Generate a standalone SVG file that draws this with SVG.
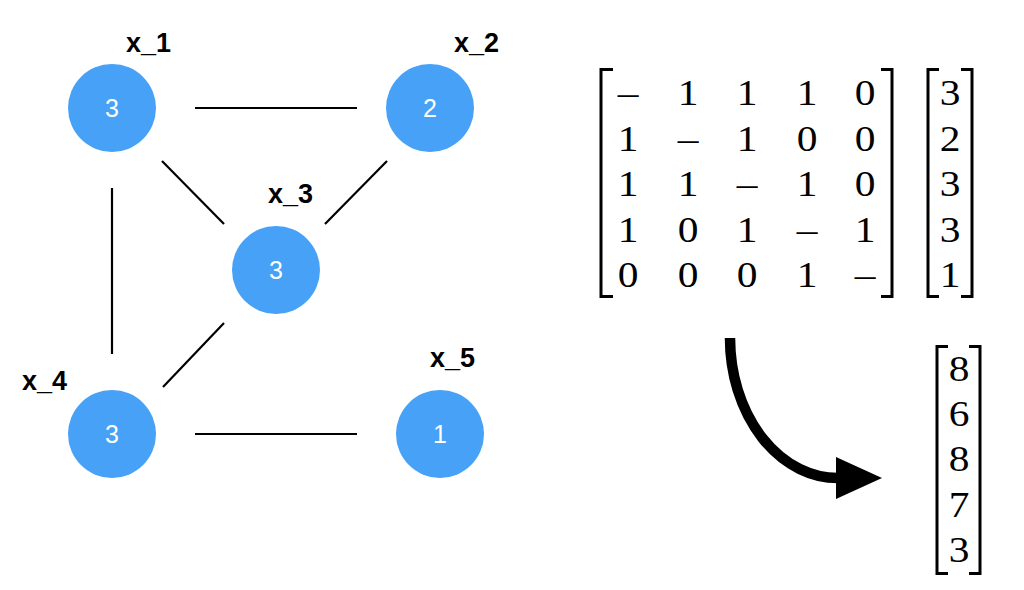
<svg xmlns="http://www.w3.org/2000/svg" width="1024" height="590" viewBox="0 0 1024 590">
<style>
.node circle{fill:#47A1F6;}
.num{font-family:"Liberation Sans",Arial,sans-serif;font-size:25px;fill:#fff;text-anchor:middle;}
.lbl{font-family:"Liberation Sans",Arial,sans-serif;font-size:27px;font-weight:bold;fill:#000;}
.edge{stroke:#000;stroke-width:2.2;fill:none;}
.m{font-family:"Liberation Serif","Times New Roman",serif;font-size:36px;fill:#000;text-anchor:middle;}
.br{stroke:#000;stroke-width:3;fill:none;}
</style>
<rect width="1024" height="590" fill="#fff"/>
<g id="connectors">
<line class="edge" x1="195" y1="108" x2="357" y2="108"/>
<line class="edge" x1="162" y1="161" x2="224" y2="224"/>
<line class="edge" x1="387" y1="161" x2="325" y2="224"/>
<line class="edge" x1="112" y1="188" x2="112" y2="354"/>
<line class="edge" x1="224" y1="323" x2="163" y2="387"/>
<line class="edge" x1="195" y1="434" x2="357" y2="434"/>
</g>
<g id="x1" class="node"><circle cx="112" cy="108" r="44"/><text class="num" x="112" y="117">3</text><text class="lbl" x="126" y="52">x_1</text></g>
<g id="x2" class="node"><circle cx="430" cy="108" r="44"/><text class="num" x="430" y="117">2</text><text class="lbl" x="454" y="52">x_2</text></g>
<g id="x3" class="node"><circle cx="276" cy="270" r="44"/><text class="num" x="276" y="279">3</text><text class="lbl" x="268" y="203">x_3</text></g>
<g id="x4" class="node"><circle cx="112" cy="434" r="44"/><text class="num" x="112" y="443">3</text><text class="lbl" x="22" y="390">x_4</text></g>
<g id="x5" class="node"><circle cx="440" cy="434" r="44"/><text class="num" x="440" y="443">1</text><text class="lbl" x="430" y="367">x_5</text></g>
<g id="matrix">
<path class="br" d="M613,69.5 H601 V296.5 H613"/>
<path class="br" d="M881,69.5 H892 V296.5 H881"/>
<g class="m">
<text transform="translate(628,105) scale(1.15,1)">–</text>
<text transform="translate(688,105) scale(1.15,1)">1</text>
<text transform="translate(747,105) scale(1.15,1)">1</text>
<text transform="translate(807,105) scale(1.15,1)">1</text>
<text transform="translate(865,105) scale(1.15,1)">0</text>
<text transform="translate(628,150.5) scale(1.15,1)">1</text>
<text transform="translate(688,150.5) scale(1.15,1)">–</text>
<text transform="translate(747,150.5) scale(1.15,1)">1</text>
<text transform="translate(807,150.5) scale(1.15,1)">0</text>
<text transform="translate(865,150.5) scale(1.15,1)">0</text>
<text transform="translate(628,196) scale(1.15,1)">1</text>
<text transform="translate(688,196) scale(1.15,1)">1</text>
<text transform="translate(747,196) scale(1.15,1)">–</text>
<text transform="translate(807,196) scale(1.15,1)">1</text>
<text transform="translate(865,196) scale(1.15,1)">0</text>
<text transform="translate(628,241.5) scale(1.15,1)">1</text>
<text transform="translate(688,241.5) scale(1.15,1)">0</text>
<text transform="translate(747,241.5) scale(1.15,1)">1</text>
<text transform="translate(807,241.5) scale(1.15,1)">–</text>
<text transform="translate(865,241.5) scale(1.15,1)">1</text>
<text transform="translate(628,287) scale(1.15,1)">0</text>
<text transform="translate(688,287) scale(1.15,1)">0</text>
<text transform="translate(747,287) scale(1.15,1)">0</text>
<text transform="translate(807,287) scale(1.15,1)">1</text>
<text transform="translate(865,287) scale(1.15,1)">–</text>
</g>
</g>
<g id="vector">
<path class="br" d="M939,69.5 H928 V296.5 H939"/>
<path class="br" d="M961,69.5 H972 V296.5 H961"/>
<g class="m">
<text transform="translate(950,105) scale(1.15,1)">3</text>
<text transform="translate(950,150.5) scale(1.15,1)">2</text>
<text transform="translate(950,196) scale(1.15,1)">3</text>
<text transform="translate(950,241.5) scale(1.15,1)">3</text>
<text transform="translate(950,287) scale(1.15,1)">1</text>
</g>
</g>
<g id="arrow">
<path d="M730,338 A108,140 0 0 0 840,478" stroke="#000" stroke-width="10.5" fill="none"/>
<polygon points="836,457 882,478 836,499" fill="#000"/>
</g>
<g id="result">
<path class="br" d="M948,346.5 H937 V573.5 H948"/>
<path class="br" d="M969,346.5 H980 V573.5 H969"/>
<g class="m">
<text transform="translate(959,381) scale(1.15,1)">8</text>
<text transform="translate(959,426) scale(1.15,1)">6</text>
<text transform="translate(959,471) scale(1.15,1)">8</text>
<text transform="translate(959,516.5) scale(1.15,1)">7</text>
<text transform="translate(959,562) scale(1.15,1)">3</text>
</g>
</g>
</svg>
